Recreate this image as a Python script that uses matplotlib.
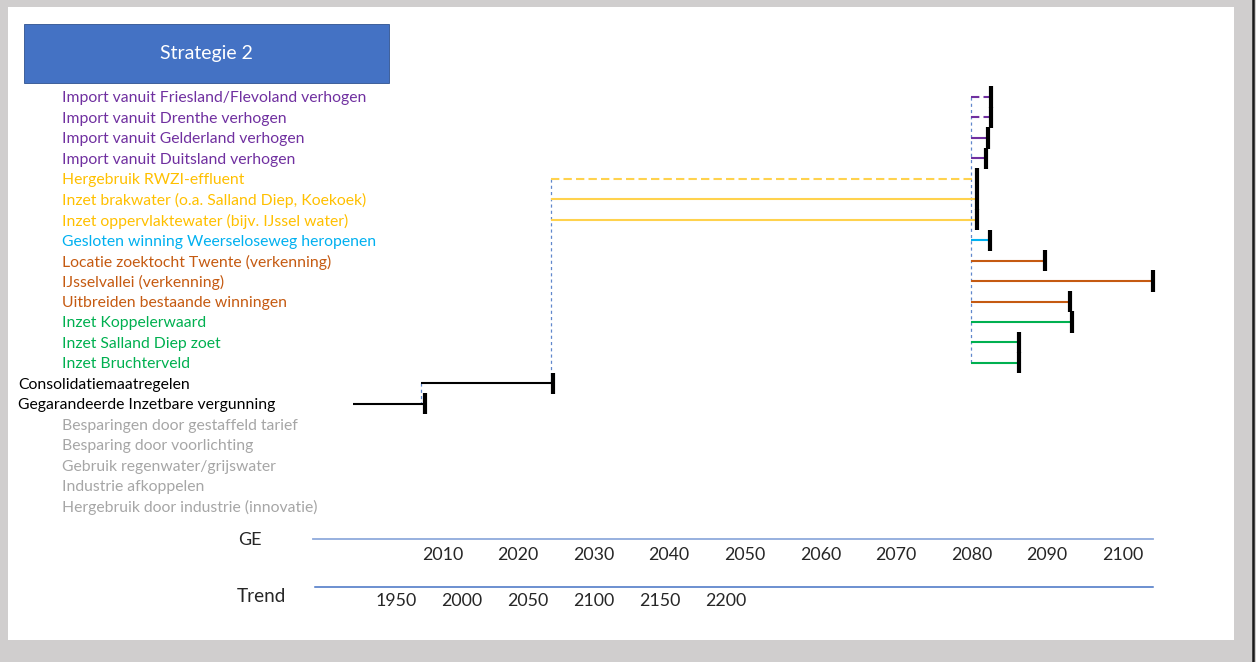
import matplotlib
matplotlib.use("Agg")
import matplotlib.pyplot as plt
from matplotlib.patches import Rectangle
from matplotlib.lines import Line2D
from matplotlib.transforms import blended_transform_factory

# ---- data -------------------------------------------------------------
title = "Strategie 2"

labels = [
    "Import vanuit Friesland/Flevoland verhogen",
    "Import vanuit Drenthe verhogen",
    "Import vanuit Gelderland verhogen",
    "Import vanuit Duitsland verhogen",
    "Hergebruik RWZI-effluent",
    "Inzet brakwater (o.a. Salland Diep, Koekoek)",
    "Inzet oppervlaktewater (bijv. IJssel water)",
    "Gesloten winning Weerseloseweg heropenen",
    "Locatie zoektocht Twente (verkenning)",
    "IJsselvallei (verkenning)",
    "Uitbreiden bestaande winningen",
    "Inzet Koppelerwaard",
    "Inzet Salland Diep zoet",
    "Inzet Bruchterveld",
    "Consolidatiemaatregelen",
    "Gegarandeerde Inzetbare vergunning",
    "Besparingen door gestaffeld tarief",
    "Besparing door voorlichting",
    "Gebruik regenwater/grijswater",
    "Industrie afkoppelen",
    "Hergebruik door industrie (innovatie)",
]
label_groups = (["import"] * 4 + ["reuse"] * 3 + ["reopen"] + ["explore"] * 3
                + ["new"] * 3 + ["base"] * 2 + ["saving"] * 5)

# pathway start / end years (GE scale) per measure row
path_start = [2080, 2080, 2080, 2080, 2024.3, 2024.3, 2024.3, 2080,
              2080, 2080, 2080, 2080, 2080, 2080, 2007.1, 1998.2]
path_end = [2082.6, 2082.6, 2082.2, 2081.9, 2080.7, 2080.7, 2080.7, 2082.4,
            2089.7, 2104.0, 2093.1, 2093.3, 2086.3, 2086.3, 2024.6, 2007.7]
path_dashed = [True, True, False, False, True, False, False, False,
               False, False, False, False, False, False, False, False]

# transfer stations: (year, first row, last row)
transfer_year = [2080, 2024.3, 2007.1]
transfer_from = [0, 4, 14]
transfer_to = [13, 14, 15]

ge_years = [2010, 2020, 2030, 2040, 2050, 2060, 2070, 2080, 2090, 2100]
trend_years = [1950, 2000, 2050, 2100, 2150, 2200]

# ---- styling ----------------------------------------------------------
text_colors = {"import": "#7030A0", "reuse": "#FFC000", "reopen": "#00B0F0",
               "explore": "#C55A11", "new": "#00B050", "base": "#000000",
               "saving": "#A6A6A6"}
line_colors = {"import": "#7030A0", "reuse": "#FFD24D", "reopen": "#00B0F0",
               "explore": "#C55A11", "new": "#00B050", "base": "#000000"}

FONT = "Lato"
W, H = 1256, 662
DPI = 100

fig = plt.figure(figsize=(W / DPI, H / DPI), dpi=DPI, facecolor="#D0CECE")


def px_box(x0, y0, x1, y1):
    """figure-fraction rectangle from pixel corners (top-left origin)"""
    return (x0 / W, 1 - y1 / H), (x1 - x0) / W, (y1 - y0) / H


# white page
xy, w, h = px_box(8, 7, 1234, 640)
fig.patches.append(Rectangle(xy, w, h, transform=fig.transFigure,
                             facecolor="white", edgecolor="none", zorder=-2))
# window edge on the right
fig.lines.append(Line2D([1252.5 / W] * 2, [0, 1], transform=fig.transFigure,
                        color="#1A1A1A", lw=1.8, zorder=-1))

# title box
xy, w, h = px_box(24, 24, 389, 83)
fig.patches.append(Rectangle(xy, w, h, transform=fig.transFigure,
                             facecolor="#4472C4", edgecolor="#2F528F",
                             lw=0.6, zorder=-1))
fig.text(206.5 / W, 1 - 53.5 / H, title, color="white", fontsize=14,
         family=FONT, ha="center", va="center", zorder=3)

# main axes: x in GE years, y in rows
px_per_year = 7.557
x_ref_px, x_ref_year = 782.5, 2055
row0_px, row_px = 97.0, 20.45
ax = fig.add_axes([0, 0, 1, 1])
ax.set_zorder(5)
ax.set_xlim(x_ref_year - x_ref_px / px_per_year,
            x_ref_year + (W - x_ref_px) / px_per_year)
ax.set_ylim((H - row0_px) / row_px, -row0_px / row_px)
ax.axis("off")
ax.patch.set_alpha(0)

# labels
lab_tr = blended_transform_factory(fig.transFigure, ax.transData)
for i, (lab, grp) in enumerate(zip(labels, label_groups)):
    x = 18 if grp == "base" else 62
    ax.text(x / W, i + 0.07, lab, transform=lab_tr, color=text_colors[grp],
            fontsize=11.3, family=FONT, ha="left", va="center")

# pathway lines and end markers
for i, (s, e, d) in enumerate(zip(path_start, path_end, path_dashed)):
    grp = label_groups[i]
    ax.plot([s, e], [i, i], color=line_colors[grp], lw=1.5,
            ls=(0, (4, 2)) if d else "-", solid_capstyle="butt",
            dash_capstyle="butt", zorder=3)
    ax.plot([e, e], [i - 0.52, i + 0.52], color="black", lw=3.0,
            solid_capstyle="butt", zorder=4)

# transfer connectors
for yr, r0, r1 in zip(transfer_year, transfer_from, transfer_to):
    ax.plot([yr, yr], [r0, r1], color="#4472C4", lw=0.9, alpha=0.85,
            ls=(0, (2.5, 2.5)), zorder=2)

# timeline axes at the bottom
fig.lines.append(Line2D([313 / W, 1153 / W], [1 - 539 / H] * 2,
                        transform=fig.transFigure, color="#8FAADC", lw=1.3))
fig.lines.append(Line2D([315 / W, 1153 / W], [1 - 587 / H] * 2,
                        transform=fig.transFigure, color="#4472C4", lw=1.1))
fig.text(250 / W, 1 - 540 / H, "GE", fontsize=13, family=FONT,
         color="#262626", ha="center", va="center")
fig.text(261 / W, 1 - 596 / H, "Trend", fontsize=13.6, family=FONT,
         color="#262626", ha="center", va="center")

ge_tr = blended_transform_factory(ax.transData, fig.transFigure)
for yr in ge_years:
    ax.text(yr, 1 - 555.5 / H, str(yr), transform=ge_tr, fontsize=12.8,
            family=FONT, color="#262626", ha="center", va="center")

# trend scale has its own compressed axis
ax2 = fig.add_axes([0, 0, 1, 1])
ax2.set_zorder(5)
trend_px_per_year = 1.32
ax2.set_xlim(1950 - 396 / trend_px_per_year,
             1950 + (W - 396) / trend_px_per_year)
ax2.axis("off")
ax2.patch.set_alpha(0)
tr_tr = blended_transform_factory(ax2.transData, fig.transFigure)
for yr in trend_years:
    ax2.text(yr, 1 - 601.5 / H, str(yr), transform=tr_tr, fontsize=12.8,
             family=FONT, color="#262626", ha="center", va="center")

fig.savefig("out.png", dpi=DPI, facecolor=fig.get_facecolor())
